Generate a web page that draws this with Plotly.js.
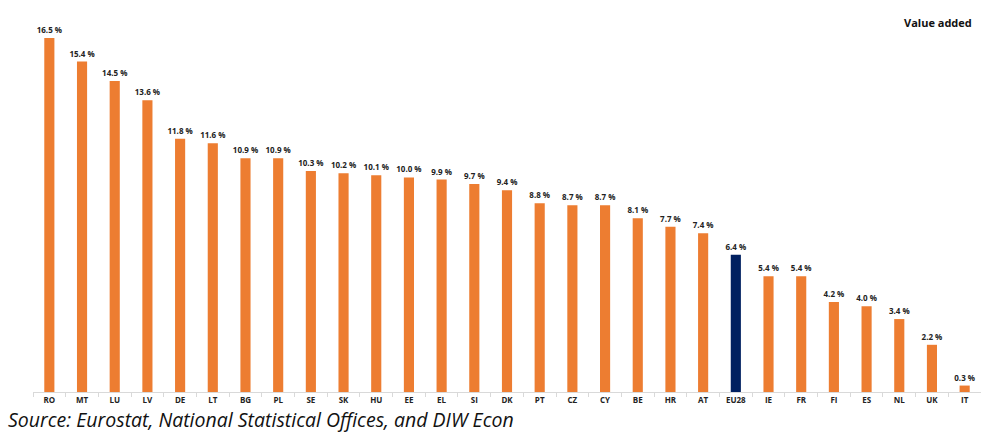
<!DOCTYPE html>
<html>
<head>
<meta charset="utf-8">
<script src="https://cdn.plot.ly/plotly-3.0.1.min.js"></script>
<style>html,body{margin:0;padding:0;background:#fff;}#chart{width:981px;height:432px;}</style>
</head>
<body>
<div id="chart"></div>
<script>
const countries = ["RO","MT","LU","LV","DE","LT","BG","PL","SE","SK","HU","EE","EL","SI","DK","PT","CZ","CY","BE","HR","AT","EU28","IE","FR","FI","ES","NL","UK","IT"];
const values = [16.5,15.4,14.5,13.6,11.8,11.6,10.9,10.9,10.3,10.2,10.1,10.0,9.9,9.7,9.4,8.8,8.7,8.7,8.1,7.7,7.4,6.4,5.4,5.4,4.2,4.0,3.4,2.2,0.3];
const highlight = "EU28";
const orange = "#ED7D31";
const navy = "#002060";
const colors = countries.map(c => c === highlight ? navy : orange);

const W = 981, H = 432;
const margin = {l: 33, r: 0, t: 20, b: 40};
const plotW = W - margin.l - margin.r;
const plotH = H - margin.t - margin.b;

const data = [{
  type: "bar",
  x: countries,
  y: values,
  marker: {color: colors, line: {width: 0}},
  texttemplate: "%{y:.1f} %",
  textposition: "outside",
  constraintext: "none",
  cliponaxis: false,
  textfont: {family: "Open Sans, sans-serif", size: 8, color: "#222", weight: 700},
  hoverinfo: "none"
}];

const layout = {
  width: W, height: H,
  margin: margin,
  paper_bgcolor: "#fff",
  plot_bgcolor: "#fff",
  showlegend: false,
  bargap: 0.69,
  xaxis: {
    type: "category",
    showline: true, linecolor: "#d9d9d9", linewidth: 1,
    ticks: "outside", tickson: "boundaries", ticklen: 4, tickcolor: "#d9d9d9",
    tickfont: {family: "Open Sans, sans-serif", size: 8, color: "#222", weight: 700},
    showgrid: false, zeroline: false
  },
  yaxis: {
    range: [0, 17.34],
    visible: false, showgrid: false, zeroline: false
  },
  annotations: [
    {text: "<b>Value added</b>", xref: "paper", yref: "paper",
     x: (974 - margin.l) / plotW, y: (H - margin.b - 22) / plotH,
     xanchor: "right", yanchor: "middle", showarrow: false,
     font: {family: "Open Sans, sans-serif", size: 11, color: "#111"}},
    {text: "<i>Source: Eurostat, National Statistical Offices, and DIW Econ</i>", xref: "paper", yref: "paper",
     x: (6 - margin.l) / plotW, y: (H - margin.b - 419) / plotH,
     xanchor: "left", yanchor: "middle", showarrow: false,
     font: {family: "Open Sans, sans-serif", size: 19.5, color: "#111"}}
  ]
};

Plotly.newPlot("chart", data, layout, {staticPlot: true, displayModeBar: false});
</script>
</body>
</html>
